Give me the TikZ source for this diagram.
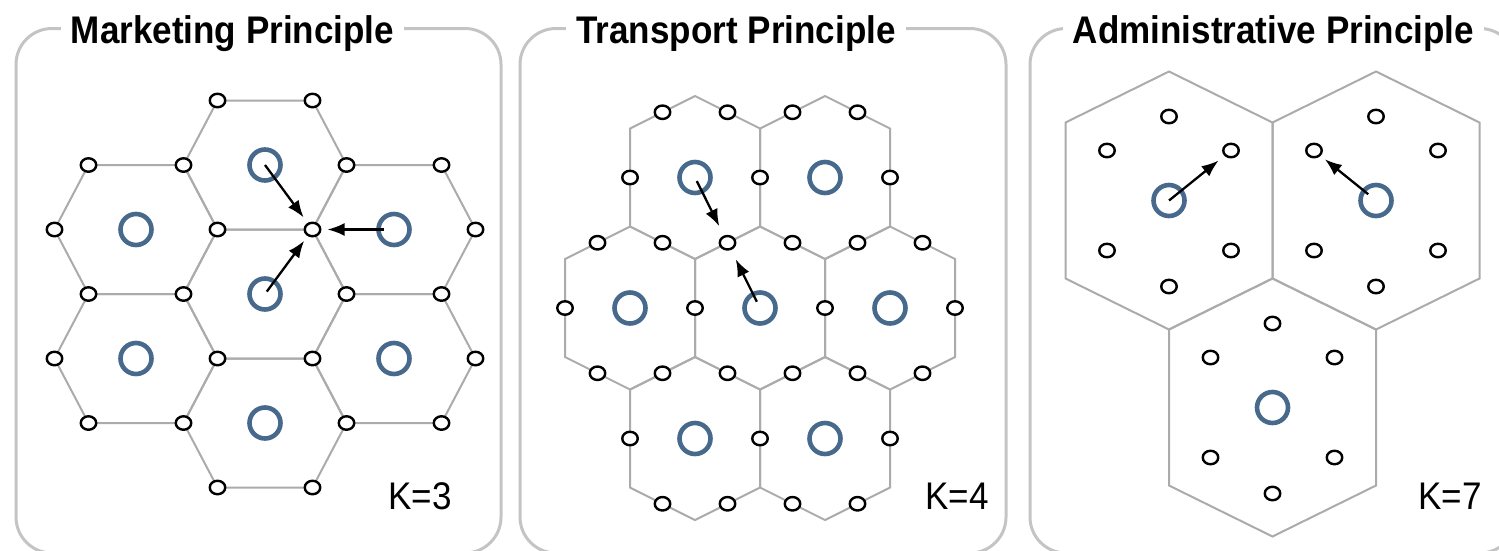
\documentclass[tikz,border=0pt]{standalone}
\usepackage{fontspec}
\setmainfont{Liberation Sans}
\newfontfamily\labfont[FakeStretch=0.91]{Liberation Sans}
\usetikzlibrary{arrows.meta,shapes.geometric}
\definecolor{framegray}{HTML}{C4C4C4}
\definecolor{hexgray}{HTML}{ABABAB}
\definecolor{townblue}{HTML}{47698B}
\tikzset{
  panel/.style={draw=framegray, line width=3pt, rounded corners=36pt},
  hexline/.style={draw=hexgray, line width=2pt, line join=miter},
  place/.style={shape=ellipse, draw=black, fill=white, line width=2.4pt,
    minimum width=15.5pt, minimum height=13.5pt, inner sep=0pt},
  town/.style={shape=circle, draw=townblue, line width=4.6pt,
    minimum size=31pt, inner sep=0pt},
  flow/.style={-{Latex[length=17pt,width=13pt]}, line width=2.3pt, draw=black},
  title/.style={font=\labfont\bfseries\fontsize{38.5pt}{40pt}\selectfont,
    fill=white, inner xsep=10pt, inner ysep=0pt, anchor=base},
  klabel/.style={font=\labfont\fontsize{38.5pt}{40pt}\selectfont,
    inner sep=0pt, anchor=base west}
}
\begin{document}
\begin{tikzpicture}[x=1pt,y=-1pt]
\useasboundingbox (0,0) rectangle (1499,550);
\clip (0,0) rectangle (1499,550);

% ---------- panel frames ----------
\draw[panel] (16,28.5) rectangle (501,553);
\draw[panel] (520,28.5) rectangle (1006,553);
\draw[panel] (1030,28.5) rectangle (1516,553);

\node[title] (t1) at (232.5,43.5) {Marketing Principle};
\node[title] (t2) at (736,43.5) {Transport Principle};
\node[title] (t3) at (1273.5,43.5) {Administrative Principle};

% ---------- K = 3 : flat-top hexagons ----------
\foreach \cx/\cy in {265/294, 265/165, 265/423, 136/229.5, 394/229.5, 136/358.5, 394/358.5}
  \draw[hexline] (\cx-47.5,\cy-64.5) -- (\cx+47.5,\cy-64.5) -- (\cx+81.5,\cy)
    -- (\cx+47.5,\cy+64.5) -- (\cx-47.5,\cy+64.5) -- (\cx-81.5,\cy) -- cycle;
\foreach \y/\xs [count=\r] in {100.5/{217.5,312.5},
    165/{88.5,183.5,346.5,441.5}, 229.5/{54.5,217.5,312.5,475.5},
    294/{88.5,183.5,346.5,441.5}, 358.5/{54.5,217.5,312.5,475.5},
    423/{88.5,183.5,346.5,441.5}, 487.5/{217.5,312.5}}
  \foreach \x [count=\c] in \xs
    \node[place] (m\r-\c) at (\x,\y) {};
\foreach \cx/\cy [count=\i] in {265/294, 265/165, 265/423, 136/229.5, 394/229.5, 136/358.5, 394/358.5}
  \node[town] (mt\i) at (\cx,\cy) {};
\draw[flow, shorten >=15pt] (mt2.center) -- (m3-3.center);
\draw[flow, shorten >=15pt, shorten <=10pt] (mt5.center) -- (m3-3.center);
\draw[flow, shorten >=14pt, shorten <=3pt] (mt1.center) -- (m3-3.center);
\node[klabel] (k3) at (388,509) {K=3};

% ---------- K = 4 : pointy-top hexagons ----------
\foreach \cx/\cy in {695/177.5, 825/177.5, 630/308, 760/308, 890/308, 695/438.5, 825/438.5}
  \draw[hexline] (\cx,\cy-81.5) -- (\cx+65,\cy-49) -- (\cx+65,\cy+49)
    -- (\cx,\cy+81.5) -- (\cx-65,\cy+49) -- (\cx-65,\cy-49) -- cycle;
\foreach \y/\xs [count=\r] in {112.25/{662.5,727.5,792.5,857.5},
    177.5/{630,760,890}, 242.75/{597.5,662.5,727.5,792.5,857.5,922.5},
    308/{565,695,825,955}, 373.25/{597.5,662.5,727.5,792.5,857.5,922.5},
    438.5/{630,760,890}, 503.75/{662.5,727.5,792.5,857.5}}
  \foreach \x [count=\c] in \xs
    \node[place] (q\r-\c) at (\x,\y) {};
\foreach \cx/\cy [count=\i] in {695/177.5, 825/177.5, 630/308, 760/308, 890/308, 695/438.5, 825/438.5}
  \node[town] (qt\i) at (\cx,\cy) {};
\draw[flow, shorten >=18.5pt, shorten <=4pt] (qt1.center) -- (q3-3.center);
\draw[flow, shorten >=18.5pt, shorten <=7pt] (qt4.center) -- (q3-3.center);
\node[klabel] (k4) at (925,509) {K=4};

% ---------- K = 7 : large hexagons with six places each ----------
\foreach \cx/\cy [count=\i] in {1169/200.5, 1376/200.5, 1272.5/407.5} {
  \draw[hexline] (\cx,\cy-129) -- (\cx+103.5,\cy-78) -- (\cx+103.5,\cy+78)
    -- (\cx,\cy+129) -- (\cx-103.5,\cy+78) -- (\cx-103.5,\cy-78) -- cycle;
  \foreach \dx/\dy [count=\j] in {0/-84, 62/-50, 62/50, 0/86, -62/50, -62/-50}
    \node[place] (a\i-\j) at (\cx+\dx,\cy+\dy) {};
  \node[town] (at\i) at (\cx,\cy) {};
}
\draw[flow, shorten >=16pt] (at1.center) -- (a1-2.center);
\draw[flow, shorten >=14pt, shorten <=10pt] (at2.center) -- (a2-6.center);
\node[klabel] (k7) at (1418,509) {K=7};
\end{tikzpicture}
\end{document}
